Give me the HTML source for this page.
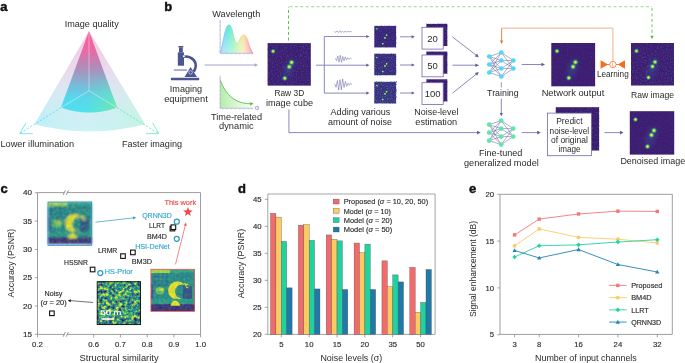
<!DOCTYPE html>
<html><head><meta charset="utf-8"><style>
html,body{margin:0;padding:0;background:#fff;}
svg{display:block;will-change:transform;}
text{font-family:"Liberation Sans",sans-serif;}
</style></head><body>
<svg width="685" height="363" viewBox="0 0 685 363" font-family="Liberation Sans, sans-serif">
<defs>
<linearGradient id="outerG" x1="0" y1="0" x2="0" y2="1">
  <stop offset="0" stop-color="#f2b4d4"/>
  <stop offset="0.35" stop-color="#e2cce4"/>
  <stop offset="0.6" stop-color="#d2e0ee"/>
  <stop offset="1" stop-color="#bff0f4"/>
</linearGradient>
<linearGradient id="outerH" x1="0" y1="0" x2="1" y2="0">
  <stop offset="0" stop-color="#b8f0f8" stop-opacity="0.55"/>
  <stop offset="0.5" stop-color="#c8eef4" stop-opacity="0"/>
  <stop offset="1" stop-color="#c8f4e0" stop-opacity="0.55"/>
</linearGradient>
<linearGradient id="innerG" x1="0" y1="0" x2="0" y2="1">
  <stop offset="0" stop-color="#f8589c"/>
  <stop offset="0.22" stop-color="#ec68a4"/>
  <stop offset="0.45" stop-color="#b08cb8"/>
  <stop offset="0.63" stop-color="#86b0d2"/>
  <stop offset="0.83" stop-color="#58d8ec"/>
  <stop offset="1" stop-color="#52e2ee"/>
</linearGradient>
<linearGradient id="innerH" x1="0" y1="0" x2="1" y2="0">
  <stop offset="0" stop-color="#44dcf4" stop-opacity="0.5"/>
  <stop offset="0.45" stop-color="#56dce8" stop-opacity="0.1"/>
  <stop offset="0.55" stop-color="#66e4c0" stop-opacity="0.3"/>
  <stop offset="1" stop-color="#70eaa6" stop-opacity="0.95"/>
</linearGradient>
<linearGradient id="mGrad" x1="0" y1="0" x2="0" y2="1">
  <stop offset="0" stop-color="#000"/>
  <stop offset="0.45" stop-color="#000"/>
  <stop offset="0.85" stop-color="#fff"/>
  <stop offset="1" stop-color="#fff"/>
</linearGradient>
<mask id="botMask" maskContentUnits="userSpaceOnUse"><rect x="0" y="31" width="170" height="90" fill="url(#mGrad)"/></mask>
<linearGradient id="outerH2" x1="0" y1="0" x2="1" y2="0">
  <stop offset="0" stop-color="#b0eef8" stop-opacity="0.6"/>
  <stop offset="0.5" stop-color="#c0eef0" stop-opacity="0.1"/>
  <stop offset="1" stop-color="#c4f4dc" stop-opacity="0.8"/>
</linearGradient>
<mask id="botMask2" maskContentUnits="userSpaceOnUse"><rect x="0" y="31" width="170" height="105" fill="url(#mGrad)"/></mask>
<linearGradient id="innerV2" x1="0" y1="0" x2="0" y2="1">
  <stop offset="0" stop-color="#fff" stop-opacity="1"/>
  <stop offset="0.5" stop-color="#fff" stop-opacity="0"/>
  <stop offset="1" stop-color="#fff" stop-opacity="1"/>
</linearGradient>
<linearGradient id="specG" x1="0" y1="0" x2="1" y2="0">
  <stop offset="0" stop-color="#88b8f8"/>
  <stop offset="0.2" stop-color="#5ee0ea"/>
  <stop offset="0.4" stop-color="#7cf0b4"/>
  <stop offset="0.58" stop-color="#ccf08c"/>
  <stop offset="0.72" stop-color="#fadc8c"/>
  <stop offset="0.86" stop-color="#f8a0a0"/>
  <stop offset="1" stop-color="#f26484"/>
</linearGradient>
<linearGradient id="specV" x1="0" y1="0" x2="0" y2="1">
  <stop offset="0" stop-color="#fff" stop-opacity="0"/>
  <stop offset="1" stop-color="#fff" stop-opacity="0.5"/>
</linearGradient>
<linearGradient id="timeG" x1="0" y1="0" x2="1" y2="0">
  <stop offset="0" stop-color="#b4eca8"/>
  <stop offset="1" stop-color="#eefaec" stop-opacity="0.6"/>
</linearGradient>
<radialGradient id="spotg">
  <stop offset="0" stop-color="#e6ee4a"/>
  <stop offset="0.28" stop-color="#bce43c"/>
  <stop offset="0.5" stop-color="#4cbc74" stop-opacity="0.8"/>
  <stop offset="0.75" stop-color="#2a7c94" stop-opacity="0.3"/>
  <stop offset="1" stop-color="#30508c" stop-opacity="0"/>
</radialGradient>
<radialGradient id="hazeg">
  <stop offset="0" stop-color="#3a5ca0" stop-opacity="0.45"/>
  <stop offset="1" stop-color="#3a5ca0" stop-opacity="0"/>
</radialGradient>
<filter id="nz0" x="0" y="0" width="100%" height="100%" color-interpolation-filters="sRGB">
  <feTurbulence type="fractalNoise" baseFrequency="0.8" numOctaves="2" seed="3"/>
  <feColorMatrix type="matrix" values="0 0 0 0 0.3  0 0 0 0 0.45  0 0 0 0 0.62  2.2 0 0 0 -1.0"/>
</filter>
<filter id="nz1" x="0" y="0" width="100%" height="100%" color-interpolation-filters="sRGB">
  <feTurbulence type="fractalNoise" baseFrequency="0.8" numOctaves="2" seed="7"/>
  <feColorMatrix type="matrix" values="0 0 0 0 0.3  0 0 0 0 0.45  0 0 0 0 0.62  2.2 0 0 0 -1.0"/>
</filter>
<filter id="nz2" x="0" y="0" width="100%" height="100%" color-interpolation-filters="sRGB">
  <feTurbulence type="fractalNoise" baseFrequency="0.8" numOctaves="2" seed="11"/>
  <feColorMatrix type="matrix" values="0 0 0 0 0.3  0 0 0 0 0.45  0 0 0 0 0.62  2.2 0 0 0 -1.0"/>
</filter>
<filter id="nz3" x="0" y="0" width="100%" height="100%" color-interpolation-filters="sRGB">
  <feTurbulence type="fractalNoise" baseFrequency="0.8" numOctaves="2" seed="19"/>
  <feColorMatrix type="matrix" values="0 0 0 0 0.3  0 0 0 0 0.45  0 0 0 0 0.62  2.2 0 0 0 -1.0"/>
</filter>
<filter id="blur1" x="-5%" y="-5%" width="110%" height="110%"><feGaussianBlur stdDeviation="0.9"/></filter>
<filter id="vnoise" x="0" y="0" width="100%" height="100%" color-interpolation-filters="sRGB">
  <feTurbulence type="fractalNoise" baseFrequency="0.32" numOctaves="2" seed="5"/>
  <feColorMatrix type="matrix" values="1.9 0 0 0 -0.38  1.9 0 0 0 -0.38  1.9 0 0 0 -0.38  0 0 0 0 1"/>
  <feComponentTransfer>
    <feFuncR type="table" tableValues="0.267 0.231 0.129 0.369 0.992"/>
    <feFuncG type="table" tableValues="0.004 0.322 0.569 0.788 0.906"/>
    <feFuncB type="table" tableValues="0.329 0.545 0.549 0.384 0.145"/>
  </feComponentTransfer>
</filter>
<symbol id="scene" viewBox="0 0 44 42" width="44" height="42" overflow="hidden">
  <rect width="44" height="42" fill="#2a8c8c"/>
  <rect x="0" y="0" width="19" height="3.8" fill="#b2da46"/>
  <rect x="19" y="0" width="25" height="3.2" fill="#3aa688"/>
  <g stroke="#2f6d94" stroke-width="0.9" opacity="0.9">
    <path d="M1,7.5 H18 M1,11.5 H18 M1,15.5 H17 M4,4 V16 M8,4 V16 M12,4 V16 M16,4 V16"/>
    <path d="M22,7 H40 M26,4 V12 M31,4 V12 M36,4 V12" opacity="0.6"/>
  </g>
  <rect x="0" y="15" width="2.2" height="15" fill="#3b5290"/>
  <path d="M32,17 L44,17 L44,34 L32,34 Z" fill="#34478a" opacity="0.85"/>
  <rect x="41" y="17" width="3" height="14" fill="#3a9a86"/>
  <ellipse cx="9" cy="21.5" rx="4.4" ry="3.7" fill="#7cc854"/>
  <ellipse cx="10.4" cy="20.4" rx="2.2" ry="1.5" fill="#d2e23c"/>
  <ellipse cx="8.2" cy="22.6" rx="1.6" ry="1.1" fill="#48aa7c"/>
  <mask id="cmask"><rect width="44" height="42" fill="#fff"/><circle cx="31.2" cy="22.3" r="7.1" fill="#000"/></mask>
  <circle cx="26.5" cy="21.2" r="9.3" fill="#f2e528" mask="url(#cmask)"/>
  <path d="M33,13.5 L37.5,15 L35,16.8 L38,18.6 L35.6,19" fill="#f2e528"/>
  <rect x="0" y="29.5" width="44" height="5" fill="#2f9a8a"/>
  <rect x="0" y="35" width="44" height="7" fill="#3e2d7c"/>
  <path d="M19.5,36.5 C20.5,33 22.5,31.2 24.5,31.2 C26.5,31.2 28.5,33.5 29.5,36.5 Z" fill="#f2e528"/>
</symbol>
</defs>
<rect width="685" height="363" fill="#fff"/>
<text x="0.3" y="10.7" font-size="13" text-anchor="start" fill="#111" font-weight="bold" stroke="#111" stroke-width="0.45">a</text>
<text x="91.7" y="27" font-size="9" text-anchor="middle" fill="#2b2b2b" font-weight="normal" textLength="54" lengthAdjust="spacingAndGlyphs" >Image quality</text>
<path d="M89,31 L34.5,124.3 Q89.5,138.5 145,124.3 Z" fill="url(#outerG)" opacity="0.75"/>
<path d="M89,31 L34.5,124.3 Q89.5,138.5 145,124.3 Z" fill="url(#outerH2)" mask="url(#botMask2)"/>
<path d="M89,31 L61,107.6 Q89,117.5 117,107.6 Z" fill="url(#innerG)"/>
<path d="M89,31 L61,107.6 Q89,117.5 117,107.6 Z" fill="url(#innerH)" mask="url(#botMask)"/>
<path d="M89,31 L89,90.8 M89,90.8 L61,107.6 M89,90.8 L117,107.6" stroke="#fff" stroke-width="0.55" opacity="0.75" fill="none"/>
<path d="M61,107.6 L19.7,133.6" stroke="#5cd8ec" stroke-width="0.8" stroke-dasharray="2.2,1.6" fill="none"/>
<path d="M117,107.6 L158.8,133.6" stroke="#5ee4b8" stroke-width="0.8" stroke-dasharray="2.2,1.6" fill="none"/>
<path d="M25.9,122.9 L19.7,133.6 L32.8,133.6" stroke="#6adcee" stroke-width="0.8" fill="none" stroke-linejoin="miter"/>
<path d="M152.6,122.9 L158.8,133.6 L145.7,133.6" stroke="#66e6bc" stroke-width="0.8" fill="none" stroke-linejoin="miter"/>
<text x="0.5" y="147" font-size="9" text-anchor="start" fill="#2b2b2b" font-weight="normal" textLength="73.6" lengthAdjust="spacingAndGlyphs" >Lower illumination</text>
<text x="122" y="147" font-size="9" text-anchor="start" fill="#2b2b2b" font-weight="normal" textLength="60" lengthAdjust="spacingAndGlyphs" >Faster imaging</text>
<text x="164.2" y="10.7" font-size="13" text-anchor="start" fill="#111" font-weight="bold" stroke="#111" stroke-width="0.45">b</text>
<g fill="#4d5590">
<rect x="178.4" y="46" width="4.9" height="1.6" rx="0.3"/>
<rect x="179" y="47.4" width="3.8" height="5.2"/>
<rect x="177.8" y="52.4" width="6.2" height="13.3"/>
<rect x="173.8" y="69.6" width="13.3" height="0.9"/>
<path d="M190.5,66.9 L184.6,76.9 L197,76.9 Z"/>
<path d="M170.9,77.8 L199.2,77.8 L199.2,79.6 Q199.2,80.2 198.6,80.2 L171.5,80.2 Q170.9,80.2 170.9,79.6 Z"/>
</g>
<path d="M183.6,56.7 C192,55.6 197.5,62 195.2,68.5 C194.8,69.8 194.3,70.8 193.6,71.6" stroke="#4d5590" stroke-width="2.6" fill="none"/>
<circle cx="183.8" cy="56.3" r="1.0" fill="#fff"/>
<circle cx="190.6" cy="72.4" r="1.8" fill="none" stroke="#fff" stroke-width="0.55"/>
<text x="186" y="92" font-size="9" text-anchor="middle" fill="#2b2b2b" font-weight="normal" textLength="32.4" lengthAdjust="spacingAndGlyphs" >Imaging</text>
<text x="186" y="101.5" font-size="9" text-anchor="middle" fill="#2b2b2b" font-weight="normal" textLength="43.7" lengthAdjust="spacingAndGlyphs" >equipment</text>
<text x="236.3" y="16.5" font-size="9" text-anchor="middle" fill="#2b2b2b" font-weight="normal" textLength="47.9" lengthAdjust="spacingAndGlyphs" >Wavelength</text>
<path d="M220.2,53.3 C223,45 225,25 228.9,24.8 C233,24.6 233.5,43 236.7,43.2 C239.5,43.4 240,34.7 243.8,34.7 C247.5,34.7 249,49 252.9,53.3 Z" fill="url(#specG)"/>
<path d="M220.2,53.3 C223,45 225,25 228.9,24.8 C233,24.6 233.5,43 236.7,43.2 C239.5,43.4 240,34.7 243.8,34.7 C247.5,34.7 249,49 252.9,53.3 Z" fill="url(#specV)"/>
<path d="M220.2,53.3 C223,45 225,25 228.9,24.8 C233,24.6 233.5,43 236.7,43.2 C239.5,43.4 240,34.7 243.8,34.7 C247.5,34.7 249,49 252.9,53.3" fill="none" stroke="url(#specG)" stroke-width="0.8"/>
<path d="M220.2,19.8 L220.2,53.3 L252.9,53.3" stroke="#a8aad0" stroke-width="0.7" fill="none"/>
<line x1="219" y1="22.0" x2="220.2" y2="22.0" stroke="#b0b2d6" stroke-width="0.5"/>
<line x1="223.0" y1="53.3" x2="223.0" y2="54.5" stroke="#b0b2d6" stroke-width="0.5"/>
<line x1="219" y1="26.2" x2="220.2" y2="26.2" stroke="#b0b2d6" stroke-width="0.5"/>
<line x1="227.2" y1="53.3" x2="227.2" y2="54.5" stroke="#b0b2d6" stroke-width="0.5"/>
<line x1="219" y1="30.4" x2="220.2" y2="30.4" stroke="#b0b2d6" stroke-width="0.5"/>
<line x1="231.4" y1="53.3" x2="231.4" y2="54.5" stroke="#b0b2d6" stroke-width="0.5"/>
<line x1="219" y1="34.6" x2="220.2" y2="34.6" stroke="#b0b2d6" stroke-width="0.5"/>
<line x1="235.6" y1="53.3" x2="235.6" y2="54.5" stroke="#b0b2d6" stroke-width="0.5"/>
<line x1="219" y1="38.8" x2="220.2" y2="38.8" stroke="#b0b2d6" stroke-width="0.5"/>
<line x1="239.8" y1="53.3" x2="239.8" y2="54.5" stroke="#b0b2d6" stroke-width="0.5"/>
<line x1="219" y1="43.0" x2="220.2" y2="43.0" stroke="#b0b2d6" stroke-width="0.5"/>
<line x1="244.0" y1="53.3" x2="244.0" y2="54.5" stroke="#b0b2d6" stroke-width="0.5"/>
<line x1="219" y1="47.2" x2="220.2" y2="47.2" stroke="#b0b2d6" stroke-width="0.5"/>
<line x1="248.2" y1="53.3" x2="248.2" y2="54.5" stroke="#b0b2d6" stroke-width="0.5"/>
<line x1="219" y1="51.4" x2="220.2" y2="51.4" stroke="#b0b2d6" stroke-width="0.5"/>
<line x1="252.4" y1="53.3" x2="252.4" y2="54.5" stroke="#b0b2d6" stroke-width="0.5"/>
<line x1="204.5" y1="65" x2="255.28" y2="65.00" stroke="#a4a6cc" stroke-width="1.0"/>
<path d="M258.00,65.00 L254.60,66.70 L254.60,63.30 Z" fill="#a4a6cc"/>
<path d="M220.2,79.8 C226,96 236,103.5 250,103.7 L252.9,108.3 L220.2,108.3 Z" fill="url(#timeG)"/>
<path d="M220.2,79.8 C226,96 236,103.5 250,103.7" stroke="#58c448" stroke-width="0.9" fill="none"/>
<path d="M253.50,103.70 L250.10,105.40 L250.10,102.00 Z" fill="#50c040"/>
<path d="M220.2,75.7 L220.2,108.3 L252.9,108.3" stroke="#a8aad0" stroke-width="0.7" fill="none"/>
<line x1="219" y1="78.0" x2="220.2" y2="78.0" stroke="#b0b2d6" stroke-width="0.5"/>
<line x1="223.0" y1="108.3" x2="223.0" y2="109.5" stroke="#b0b2d6" stroke-width="0.5"/>
<line x1="219" y1="82.2" x2="220.2" y2="82.2" stroke="#b0b2d6" stroke-width="0.5"/>
<line x1="227.2" y1="108.3" x2="227.2" y2="109.5" stroke="#b0b2d6" stroke-width="0.5"/>
<line x1="219" y1="86.4" x2="220.2" y2="86.4" stroke="#b0b2d6" stroke-width="0.5"/>
<line x1="231.4" y1="108.3" x2="231.4" y2="109.5" stroke="#b0b2d6" stroke-width="0.5"/>
<line x1="219" y1="90.6" x2="220.2" y2="90.6" stroke="#b0b2d6" stroke-width="0.5"/>
<line x1="235.6" y1="108.3" x2="235.6" y2="109.5" stroke="#b0b2d6" stroke-width="0.5"/>
<line x1="219" y1="94.8" x2="220.2" y2="94.8" stroke="#b0b2d6" stroke-width="0.5"/>
<line x1="239.8" y1="108.3" x2="239.8" y2="109.5" stroke="#b0b2d6" stroke-width="0.5"/>
<line x1="219" y1="99.0" x2="220.2" y2="99.0" stroke="#b0b2d6" stroke-width="0.5"/>
<line x1="244.0" y1="108.3" x2="244.0" y2="109.5" stroke="#b0b2d6" stroke-width="0.5"/>
<line x1="219" y1="103.2" x2="220.2" y2="103.2" stroke="#b0b2d6" stroke-width="0.5"/>
<line x1="248.2" y1="108.3" x2="248.2" y2="109.5" stroke="#b0b2d6" stroke-width="0.5"/>
<line x1="219" y1="107.4" x2="220.2" y2="107.4" stroke="#b0b2d6" stroke-width="0.5"/>
<line x1="252.4" y1="108.3" x2="252.4" y2="109.5" stroke="#b0b2d6" stroke-width="0.5"/>
<circle cx="257" cy="108" r="1.8" fill="#fff" stroke="#7a7cb8" stroke-width="0.6"/>
<path d="M257,106.9 L257,108 L257.8,108.5" stroke="#7a7cb8" stroke-width="0.4" fill="none"/>
<text x="236.5" y="120.2" font-size="9" text-anchor="middle" fill="#2b2b2b" font-weight="normal" textLength="51" lengthAdjust="spacingAndGlyphs" >Time-related</text>
<text x="236.3" y="128.8" font-size="9" text-anchor="middle" fill="#2b2b2b" font-weight="normal" textLength="34.6" lengthAdjust="spacingAndGlyphs" >dynamic</text>
<g>
<rect x="267.6" y="43.1" width="43.2" height="42.5" fill="#3d1c72"/>
<rect x="267.6" y="43.1" width="43.2" height="42.5" fill="#000" filter="url(#nz0)" opacity="0.55"/>
<ellipse cx="288.6" cy="69.2" rx="7.8" ry="13.6" fill="url(#hazeg)" transform="rotate(20 288.6 69.2)"/>
<circle cx="273.1" cy="51.3" r="3.12" fill="url(#spotg)"/>
<circle cx="291.6" cy="62.4" r="3.64" fill="url(#spotg)"/>
<circle cx="289.3" cy="66.8" r="3.64" fill="url(#spotg)"/>
<circle cx="284.8" cy="78.3" r="3.38" fill="url(#spotg)"/>
</g>
<text x="289.3" y="95.6" font-size="9" text-anchor="middle" fill="#2b2b2b" font-weight="normal" textLength="29.8" lengthAdjust="spacingAndGlyphs" >Raw 3D</text>
<text x="289.5" y="106.1" font-size="9" text-anchor="middle" fill="#2b2b2b" font-weight="normal" textLength="47.2" lengthAdjust="spacingAndGlyphs" >image cube</text>
<path d="M288.5,40.5 L288.5,6.8" stroke="#5cc04c" stroke-width="1" stroke-dasharray="3.1,2.4" fill="none"/>
<path d="M289.5,6.8 L652,6.8" stroke="#9ada8a" stroke-width="1.1" stroke-dasharray="3.1,2.3" fill="none"/>
<path d="M652,8 L652,36" stroke="#78d066" stroke-width="1.1" stroke-dasharray="3.1,2.3" fill="none"/>
<path d="M652.00,39.20 L650.40,36.00 L653.60,36.00 Z" fill="#5cc04c"/>
<line x1="315.9" y1="65.2" x2="324.3" y2="65.2" stroke="#7a7cb4" stroke-width="0.9"/>
<line x1="324.3" y1="36.5" x2="324.3" y2="93.1" stroke="#7a7cb4" stroke-width="0.9"/>
<line x1="324.3" y1="36.5" x2="366.94" y2="36.50" stroke="#7a7cb4" stroke-width="0.9"/>
<path d="M369.50,36.50 L366.30,38.10 L366.30,34.90 Z" fill="#5c5e9c"/>
<line x1="324.3" y1="65.2" x2="366.94" y2="65.20" stroke="#7a7cb4" stroke-width="0.9"/>
<path d="M369.50,65.20 L366.30,66.80 L366.30,63.60 Z" fill="#5c5e9c"/>
<line x1="324.3" y1="93.1" x2="366.94" y2="93.10" stroke="#7a7cb4" stroke-width="0.9"/>
<path d="M369.50,93.10 L366.30,94.70 L366.30,91.50 Z" fill="#5c5e9c"/>
<polyline points="334.40,31.60 335.73,32.24 337.06,31.03 338.39,32.58 339.72,30.73 341.05,32.47 342.38,31.04 343.72,32.41 345.05,31.28 346.38,31.99 347.71,31.43 349.04,31.88 350.37,31.53 351.70,31.74" fill="none" stroke="#6a6ca8" stroke-width="0.55"/>
<polyline points="335.30,58.29 336.55,60.69 337.79,56.02 339.04,62.11 340.28,55.21 341.53,62.31 342.78,56.41 344.02,60.85 345.27,56.86 346.52,59.88 347.76,57.78 349.01,59.24 350.25,58.17 351.50,58.84" fill="none" stroke="#6a6ca8" stroke-width="0.55"/>
<polyline points="334.70,83.63 336.03,87.34 337.36,80.62 338.69,90.08 340.02,79.69 341.35,89.76 342.68,78.85 344.02,87.52 345.35,81.48 346.68,86.33 348.01,83.13 349.34,85.34 350.67,83.30 352.00,84.56" fill="none" stroke="#6a6ca8" stroke-width="0.55"/>
<g>
<rect x="374.3" y="25.9" width="21.8" height="21.5" fill="#3a2378"/>
<rect x="374.3" y="25.9" width="21.8" height="21.5" fill="#000" filter="url(#nz1)" opacity="0.55"/>
<circle cx="376.9" cy="28.9" r="1.30" fill="url(#spotg)"/>
<circle cx="386.6" cy="35.2" r="1.56" fill="url(#spotg)"/>
<circle cx="385" cy="37.9" r="1.69" fill="url(#spotg)"/>
<circle cx="382.8" cy="43.7" r="1.56" fill="url(#spotg)"/>
</g>
<g>
<rect x="374.3" y="53.8" width="21.8" height="21.4" fill="#3a2a7c"/>
<rect x="374.3" y="53.8" width="21.8" height="21.4" fill="#000" filter="url(#nz2)" opacity="0.8"/>
<circle cx="376.9" cy="57.6" r="1.30" fill="url(#spotg)"/>
<circle cx="386.6" cy="63.9" r="1.56" fill="url(#spotg)"/>
<circle cx="385" cy="65.9" r="1.69" fill="url(#spotg)"/>
<circle cx="382.8" cy="71.5" r="1.56" fill="url(#spotg)"/>
</g>
<g>
<rect x="374.3" y="81.8" width="21.8" height="21.6" fill="#3a307e"/>
<rect x="374.3" y="81.8" width="21.8" height="21.6" fill="#000" filter="url(#nz3)" opacity="1.0"/>
<circle cx="376.9" cy="85.5" r="1.30" fill="url(#spotg)"/>
<circle cx="386.6" cy="91.8" r="1.56" fill="url(#spotg)"/>
<circle cx="385" cy="93.9" r="1.69" fill="url(#spotg)"/>
<circle cx="382.8" cy="99.5" r="1.56" fill="url(#spotg)"/>
</g>
<line x1="400" y1="36.8" x2="412.24" y2="36.80" stroke="#7a7cb4" stroke-width="0.9"/>
<path d="M414.80,36.80 L411.60,38.40 L411.60,35.20 Z" fill="#5c5e9c"/>
<line x1="400" y1="65" x2="412.24" y2="65.00" stroke="#7a7cb4" stroke-width="0.9"/>
<path d="M414.80,65.00 L411.60,66.60 L411.60,63.40 Z" fill="#5c5e9c"/>
<line x1="400" y1="93" x2="412.24" y2="93.00" stroke="#7a7cb4" stroke-width="0.9"/>
<path d="M414.80,93.00 L411.60,94.60 L411.60,91.40 Z" fill="#5c5e9c"/>
<rect x="426.4" y="23.9" width="20.9" height="22.1" fill="#3b1a6e"/>
<rect x="426.4" y="23.9" width="20.9" height="22.1" fill="#000" filter="url(#nz1)" opacity="0.6"/>
<rect x="422" y="27.3" width="21.2" height="21.8" fill="#fff" stroke="#7766aa" stroke-width="0.8"/>
<text x="432.6" y="41.5" font-size="9.5" text-anchor="middle" fill="#2b2b2b" font-weight="normal" >20</text>
<rect x="426.4" y="51.6" width="20.9" height="22.1" fill="#3b1a6e"/>
<rect x="426.4" y="51.6" width="20.9" height="22.1" fill="#000" filter="url(#nz1)" opacity="0.6"/>
<rect x="422" y="55.0" width="21.2" height="21.8" fill="#fff" stroke="#7766aa" stroke-width="0.8"/>
<text x="432.6" y="69.2" font-size="9.5" text-anchor="middle" fill="#2b2b2b" font-weight="normal" >50</text>
<rect x="426.4" y="79.3" width="20.9" height="22.1" fill="#3b1a6e"/>
<rect x="426.4" y="79.3" width="20.9" height="22.1" fill="#000" filter="url(#nz1)" opacity="0.6"/>
<rect x="422" y="82.7" width="21.2" height="21.8" fill="#fff" stroke="#7766aa" stroke-width="0.8"/>
<text x="432.6" y="96.89999999999999" font-size="9.5" text-anchor="middle" fill="#2b2b2b" font-weight="normal" >100</text>
<text x="360.5" y="115.3" font-size="9" text-anchor="middle" fill="#2b2b2b" font-weight="normal" textLength="59.8" lengthAdjust="spacingAndGlyphs" >Adding various</text>
<text x="360" y="125" font-size="9" text-anchor="middle" fill="#2b2b2b" font-weight="normal" textLength="64" lengthAdjust="spacingAndGlyphs" >amount of noise</text>
<text x="436.4" y="115.4" font-size="9" text-anchor="middle" fill="#2b2b2b" font-weight="normal" textLength="44.1" lengthAdjust="spacingAndGlyphs" >Noise-level</text>
<text x="436.2" y="125.1" font-size="9" text-anchor="middle" fill="#2b2b2b" font-weight="normal" textLength="41.8" lengthAdjust="spacingAndGlyphs" >estimation</text>
<line x1="452.4" y1="36.9" x2="476.52" y2="55.44" stroke="#7a7cb4" stroke-width="0.9"/>
<path d="M478.80,57.20 L474.85,56.43 L477.04,53.58 Z" fill="#5c5e9c"/>
<line x1="452.4" y1="65.2" x2="476.12" y2="65.20" stroke="#7a7cb4" stroke-width="0.9"/>
<path d="M479.00,65.20 L475.40,67.00 L475.40,63.40 Z" fill="#5c5e9c"/>
<line x1="452.4" y1="93.2" x2="476.55" y2="73.90" stroke="#7a7cb4" stroke-width="0.9"/>
<path d="M478.80,72.10 L477.11,75.75 L474.86,72.94 Z" fill="#5c5e9c"/>
<path d="M489.3,56.5L501.3,52.5M489.3,56.5L501.3,60.5M489.3,56.5L501.3,68.5M489.3,56.5L501.3,76.5M489.3,64.5L501.3,52.5M489.3,64.5L501.3,60.5M489.3,64.5L501.3,68.5M489.3,64.5L501.3,76.5M489.3,72.5L501.3,52.5M489.3,72.5L501.3,60.5M489.3,72.5L501.3,68.5M489.3,72.5L501.3,76.5M501.3,52.5L513.3,60.5M501.3,52.5L513.3,68.5M501.3,60.5L513.3,60.5M501.3,60.5L513.3,68.5M501.3,68.5L513.3,60.5M501.3,68.5L513.3,68.5M501.3,76.5L513.3,60.5M501.3,76.5L513.3,68.5" stroke="#4c4c8c" stroke-width="0.45" fill="none"/>
<circle cx="489.3" cy="56.5" r="2.35" fill="#52d6f4"/>
<circle cx="489.3" cy="64.5" r="2.35" fill="#52d6f4"/>
<circle cx="489.3" cy="72.5" r="2.35" fill="#52d6f4"/>
<circle cx="501.3" cy="52.5" r="2.35" fill="#52d6f4"/>
<circle cx="501.3" cy="60.5" r="2.35" fill="#52d6f4"/>
<circle cx="501.3" cy="68.5" r="2.35" fill="#52d6f4"/>
<circle cx="501.3" cy="76.5" r="2.35" fill="#52d6f4"/>
<circle cx="513.3" cy="60.5" r="2.35" fill="#52d6f4"/>
<circle cx="513.3" cy="68.5" r="2.35" fill="#52d6f4"/>
<path d="M501.6,28.1 L612.9,28.1 L612.9,61" stroke="#f6b088" stroke-width="1" fill="none"/>
<path d="M501.6,41.5 L501.6,28.1" stroke="#f0884a" stroke-width="1" fill="none"/>
<path d="M501.60,44.00 L499.90,40.60 L503.30,40.60 Z" fill="#ee7a2a"/>
<line x1="501.3" y1="82.2" x2="501.3" y2="87.4" stroke="#7a7cb4" stroke-width="0.8"/>
<text x="502.9" y="96.3" font-size="9" text-anchor="middle" fill="#2b2b2b" font-weight="normal" textLength="31.6" lengthAdjust="spacingAndGlyphs" >Training</text>
<line x1="501.3" y1="98.7" x2="501.30" y2="113.74" stroke="#7a7cb4" stroke-width="0.9"/>
<path d="M501.30,116.30 L499.70,113.10 L502.90,113.10 Z" fill="#5c5e9c"/>
<line x1="521.7" y1="64.5" x2="542.12" y2="64.50" stroke="#7a7cb4" stroke-width="0.9"/>
<path d="M545.00,64.50 L541.40,66.30 L541.40,62.70 Z" fill="#5c5e9c"/>
<g>
<rect x="551.3" y="43" width="43.8" height="43.3" fill="#3d1c72"/>
<rect x="551.3" y="43" width="43.8" height="43.3" fill="#000" filter="url(#nz2)" opacity="0.25"/>
<ellipse cx="572.4" cy="68.9" rx="7.9" ry="13.9" fill="url(#hazeg)" transform="rotate(20 572.4 68.9)"/>
<circle cx="557" cy="51.1" r="3.12" fill="url(#spotg)"/>
<circle cx="575.4" cy="62.2" r="3.64" fill="url(#spotg)"/>
<circle cx="573.1" cy="66.7" r="3.64" fill="url(#spotg)"/>
<circle cx="568.8" cy="77.9" r="3.38" fill="url(#spotg)"/>
</g>
<text x="573" y="96.2" font-size="9" text-anchor="middle" fill="#2b2b2b" font-weight="normal" textLength="62.7" lengthAdjust="spacingAndGlyphs" >Network output</text>
<path d="M600.6,60.2 L608,64.5 L600.6,68.7 Z M625,60.2 L617.6,64.5 L625,68.7 Z" fill="#f07020"/>
<line x1="607" y1="64.5" x2="618.5" y2="64.5" stroke="#f07020" stroke-width="0.9"/>
<circle cx="612.9" cy="64.5" r="3.2" fill="#fff" stroke="#f07a30" stroke-width="0.8"/>
<path d="M612.6,62.4 L612.6,66.2 L613.8,66.2" stroke="#f08a40" stroke-width="0.55" fill="none"/>
<text x="612.8" y="77.2" font-size="9" text-anchor="middle" fill="#2b2b2b" font-weight="normal" textLength="31.8" lengthAdjust="spacingAndGlyphs" >Learning</text>
<g>
<rect x="631" y="43" width="43" height="42.5" fill="#3d1c72"/>
<rect x="631" y="43" width="43" height="42.5" fill="#000" filter="url(#nz3)" opacity="0.55"/>
<ellipse cx="652.0" cy="68.7" rx="7.7" ry="13.6" fill="url(#hazeg)" transform="rotate(20 652.0 68.7)"/>
<circle cx="636.5" cy="51" r="3.12" fill="url(#spotg)"/>
<circle cx="655" cy="62" r="3.38" fill="url(#spotg)"/>
<circle cx="652.5" cy="66.5" r="3.38" fill="url(#spotg)"/>
<circle cx="648.5" cy="77.5" r="3.12" fill="url(#spotg)"/>
</g>
<text x="652.5" y="98" font-size="9" text-anchor="middle" fill="#2b2b2b" font-weight="normal" textLength="43.2" lengthAdjust="spacingAndGlyphs" >Raw image</text>
<path d="M288.9,109.5 L288.9,132.6 L477,132.6" stroke="#7a7cb4" stroke-width="0.9" fill="none"/>
<path d="M480.60,132.60 L477.00,134.40 L477.00,130.80 Z" fill="#5c5e9c"/>
<path d="M489.2,124.6L501.2,120.6M489.2,124.6L501.2,128.6M489.2,124.6L501.2,136.6M489.2,124.6L501.2,144.6M489.2,132.6L501.2,120.6M489.2,132.6L501.2,128.6M489.2,132.6L501.2,136.6M489.2,132.6L501.2,144.6M489.2,140.6L501.2,120.6M489.2,140.6L501.2,128.6M489.2,140.6L501.2,136.6M489.2,140.6L501.2,144.6M501.2,120.6L513.2,128.6M501.2,120.6L513.2,136.6M501.2,128.6L513.2,128.6M501.2,128.6L513.2,136.6M501.2,136.6L513.2,128.6M501.2,136.6L513.2,136.6M501.2,144.6L513.2,128.6M501.2,144.6L513.2,136.6" stroke="#4c4c8c" stroke-width="0.45" fill="none"/>
<circle cx="489.2" cy="124.6" r="2.35" fill="#62e6a8"/>
<circle cx="489.2" cy="132.6" r="2.35" fill="#62e6a8"/>
<circle cx="489.2" cy="140.6" r="2.35" fill="#62e6a8"/>
<circle cx="501.2" cy="120.6" r="2.35" fill="#62e6a8"/>
<circle cx="501.2" cy="128.6" r="2.35" fill="#62e6a8"/>
<circle cx="501.2" cy="136.6" r="2.35" fill="#62e6a8"/>
<circle cx="501.2" cy="144.6" r="2.35" fill="#62e6a8"/>
<circle cx="513.2" cy="128.6" r="2.35" fill="#62e6a8"/>
<circle cx="513.2" cy="136.6" r="2.35" fill="#62e6a8"/>
<text x="500.7" y="156.3" font-size="9" text-anchor="middle" fill="#2b2b2b" font-weight="normal" textLength="43.4" lengthAdjust="spacingAndGlyphs" >Fine-tuned</text>
<text x="501.4" y="166.1" font-size="9" text-anchor="middle" fill="#2b2b2b" font-weight="normal" textLength="74.8" lengthAdjust="spacingAndGlyphs" >generalized model</text>
<line x1="521.8" y1="132.6" x2="537.92" y2="132.60" stroke="#7a7cb4" stroke-width="0.9"/>
<path d="M540.80,132.60 L537.20,134.40 L537.20,130.80 Z" fill="#5c5e9c"/>
<rect x="555.8" y="107.2" width="43.3" height="43.3" fill="#3b1a6e"/>
<rect x="555.8" y="107.2" width="43.3" height="43.3" fill="#000" filter="url(#nz2)" opacity="0.5"/>
<rect x="547.4" y="113.1" width="44" height="42.6" fill="#fff" stroke="#7766aa" stroke-width="0.8"/>
<text x="569.4" y="124.1" font-size="9" text-anchor="middle" fill="#2b2b2b" font-weight="normal" textLength="26.5" lengthAdjust="spacingAndGlyphs" >Predict</text>
<text x="569.4" y="133.5" font-size="9" text-anchor="middle" fill="#2b2b2b" font-weight="normal" textLength="39.6" lengthAdjust="spacingAndGlyphs" >noise-level</text>
<text x="569.4" y="142.9" font-size="9" text-anchor="middle" fill="#2b2b2b" font-weight="normal" textLength="37" lengthAdjust="spacingAndGlyphs" >of original</text>
<text x="569.4" y="152.2" font-size="9" text-anchor="middle" fill="#2b2b2b" font-weight="normal" textLength="22" lengthAdjust="spacingAndGlyphs" >image</text>
<line x1="604.5" y1="132.6" x2="620.72" y2="132.60" stroke="#7a7cb4" stroke-width="0.9"/>
<path d="M623.60,132.60 L620.00,134.40 L620.00,130.80 Z" fill="#5c5e9c"/>
<g>
<rect x="629.8" y="111.2" width="44.4" height="43.4" fill="#3d1c72"/>
<rect x="629.8" y="111.2" width="44.4" height="43.4" fill="#000" filter="url(#nz1)" opacity="0.25"/>
<ellipse cx="651.0" cy="137.3" rx="8.0" ry="13.9" fill="url(#hazeg)" transform="rotate(20 651.0 137.3)"/>
<circle cx="635.5" cy="119.5" r="3.12" fill="url(#spotg)"/>
<circle cx="654" cy="130.5" r="3.64" fill="url(#spotg)"/>
<circle cx="651.5" cy="135" r="3.64" fill="url(#spotg)"/>
<circle cx="647.5" cy="146.5" r="3.38" fill="url(#spotg)"/>
</g>
<text x="652.8" y="164.2" font-size="9" text-anchor="middle" fill="#2b2b2b" font-weight="normal" textLength="64.8" lengthAdjust="spacingAndGlyphs" >Denoised image</text>
<text x="0.5" y="192.8" font-size="13" text-anchor="start" fill="#111" font-weight="bold" stroke="#111" stroke-width="0.45">c</text>
<path d="M37.5,192.6 L37.5,334.4 L200.5,334.4 L200.5,192.6 Z" fill="none" stroke="#7e7e7e" stroke-width="0.75"/>
<rect x="64.2" y="191.1" width="3.2" height="3" fill="#fff"/>
<path d="M63.199999999999996,194.9 L65.39999999999999,190.29999999999998 M66.2,194.9 L68.39999999999999,190.29999999999998" stroke="#555" stroke-width="0.65"/>
<rect x="64.2" y="332.9" width="3.2" height="3" fill="#fff"/>
<path d="M63.199999999999996,336.7 L65.39999999999999,332.09999999999997 M66.2,336.7 L68.39999999999999,332.09999999999997" stroke="#555" stroke-width="0.65"/>
<line x1="34.8" y1="192.8" x2="37.5" y2="192.8" stroke="#7e7e7e" stroke-width="0.7"/>
<text x="32" y="195.4" font-size="7.6" text-anchor="end" fill="#2b2b2b" font-weight="normal" textLength="9" lengthAdjust="spacingAndGlyphs"  stroke="#2b2b2b" stroke-width="0.15">40</text>
<line x1="34.8" y1="221.1" x2="37.5" y2="221.1" stroke="#7e7e7e" stroke-width="0.7"/>
<text x="32" y="223.70000000000002" font-size="7.6" text-anchor="end" fill="#2b2b2b" font-weight="normal" textLength="9" lengthAdjust="spacingAndGlyphs"  stroke="#2b2b2b" stroke-width="0.15">35</text>
<line x1="34.8" y1="249.4" x2="37.5" y2="249.4" stroke="#7e7e7e" stroke-width="0.7"/>
<text x="32" y="252.0" font-size="7.6" text-anchor="end" fill="#2b2b2b" font-weight="normal" textLength="9" lengthAdjust="spacingAndGlyphs"  stroke="#2b2b2b" stroke-width="0.15">30</text>
<line x1="34.8" y1="277.7" x2="37.5" y2="277.7" stroke="#7e7e7e" stroke-width="0.7"/>
<text x="32" y="280.3" font-size="7.6" text-anchor="end" fill="#2b2b2b" font-weight="normal" textLength="9" lengthAdjust="spacingAndGlyphs"  stroke="#2b2b2b" stroke-width="0.15">25</text>
<line x1="34.8" y1="306.0" x2="37.5" y2="306.0" stroke="#7e7e7e" stroke-width="0.7"/>
<text x="32" y="308.6" font-size="7.6" text-anchor="end" fill="#2b2b2b" font-weight="normal" textLength="9" lengthAdjust="spacingAndGlyphs"  stroke="#2b2b2b" stroke-width="0.15">20</text>
<line x1="34.8" y1="334.3" x2="37.5" y2="334.3" stroke="#7e7e7e" stroke-width="0.7"/>
<text x="32" y="336.90000000000003" font-size="7.6" text-anchor="end" fill="#2b2b2b" font-weight="normal" textLength="9" lengthAdjust="spacingAndGlyphs"  stroke="#2b2b2b" stroke-width="0.15">15</text>
<line x1="37.5" y1="334.4" x2="37.5" y2="337.4" stroke="#7e7e7e" stroke-width="0.7"/>
<text x="37.5" y="346.9" font-size="7.6" text-anchor="middle" fill="#2b2b2b" font-weight="normal" textLength="10.8" lengthAdjust="spacingAndGlyphs"  stroke="#2b2b2b" stroke-width="0.15">0.2</text>
<line x1="93.7" y1="334.4" x2="93.7" y2="337.4" stroke="#7e7e7e" stroke-width="0.7"/>
<text x="93.7" y="346.9" font-size="7.6" text-anchor="middle" fill="#2b2b2b" font-weight="normal" textLength="10.8" lengthAdjust="spacingAndGlyphs"  stroke="#2b2b2b" stroke-width="0.15">0.6</text>
<line x1="120.4" y1="334.4" x2="120.4" y2="337.4" stroke="#7e7e7e" stroke-width="0.7"/>
<text x="120.43" y="346.9" font-size="7.6" text-anchor="middle" fill="#2b2b2b" font-weight="normal" textLength="10.8" lengthAdjust="spacingAndGlyphs"  stroke="#2b2b2b" stroke-width="0.15">0.7</text>
<line x1="147.2" y1="334.4" x2="147.2" y2="337.4" stroke="#7e7e7e" stroke-width="0.7"/>
<text x="147.16000000000003" y="346.9" font-size="7.6" text-anchor="middle" fill="#2b2b2b" font-weight="normal" textLength="10.8" lengthAdjust="spacingAndGlyphs"  stroke="#2b2b2b" stroke-width="0.15">0.8</text>
<line x1="173.9" y1="334.4" x2="173.9" y2="337.4" stroke="#7e7e7e" stroke-width="0.7"/>
<text x="173.89000000000001" y="346.9" font-size="7.6" text-anchor="middle" fill="#2b2b2b" font-weight="normal" textLength="10.8" lengthAdjust="spacingAndGlyphs"  stroke="#2b2b2b" stroke-width="0.15">0.9</text>
<line x1="200.6" y1="334.4" x2="200.6" y2="337.4" stroke="#7e7e7e" stroke-width="0.7"/>
<text x="200.62" y="346.9" font-size="7.6" text-anchor="middle" fill="#2b2b2b" font-weight="normal" textLength="10.8" lengthAdjust="spacingAndGlyphs"  stroke="#2b2b2b" stroke-width="0.15">1.0</text>
<text x="119.1" y="360.9" font-size="9" text-anchor="middle" fill="#2b2b2b" font-weight="normal" textLength="79" lengthAdjust="spacingAndGlyphs" >Structural similarity</text>
<text x="0" y="0" font-size="9" text-anchor="middle" fill="#2b2b2b" font-weight="normal" textLength="68.6" lengthAdjust="spacingAndGlyphs" transform="translate(13.6,263.1) rotate(-90)">Accuracy (PSNR)</text>
<g transform="translate(150.9,269.3)"><use href="#scene"/></g>
<rect x="150.9" y="269.3" width="43.4" height="42.2" fill="#000" filter="url(#vnoise)" opacity="0.12"/>
<rect x="150.9" y="269.3" width="43.4" height="42.2" fill="none" stroke="#f25a5a" stroke-width="0.8"/>
<g transform="translate(48,202.1)" filter="url(#blur1)"><use href="#scene"/></g>
<rect x="48" y="202.1" width="43.6" height="43.2" fill="#000" filter="url(#vnoise)" opacity="0.15"/>
<rect x="48" y="202.1" width="43.6" height="43.2" fill="none" stroke="#2e8ad6" stroke-width="0.8"/>
<rect x="97.2" y="281.8" width="43.3" height="42.8" fill="#000" filter="url(#vnoise)"/>
<g transform="translate(97.2,281.8)" opacity="0.1"><use href="#scene"/></g>
<rect x="97.2" y="281.8" width="43.3" height="42.8" fill="none" stroke="#111" stroke-width="0.9"/>
<text x="111" y="314.7" font-size="7.8" text-anchor="middle" fill="#fff" font-weight="normal" textLength="21" lengthAdjust="spacingAndGlyphs"  stroke="#fff" stroke-width="0.15">50 m</text>
<rect x="101.5" y="318.2" width="12.3" height="1.6" fill="#fff"/>
<line x1="95.5" y1="222.2" x2="133.82" y2="217.87" stroke="#2e96c8" stroke-width="0.7"/>
<path d="M136.20,217.60 L133.39,219.43 L133.05,216.45 Z" fill="#2e96c8"/>
<line x1="175.5" y1="264.3" x2="185.41" y2="224.93" stroke="#f05050" stroke-width="0.7"/>
<path d="M186.00,222.60 L186.72,225.88 L183.81,225.14 Z" fill="#f05050"/>
<line x1="93" y1="302.5" x2="70.19" y2="300.60" stroke="#111" stroke-width="0.6"/>
<path d="M67.80,300.40 L70.91,299.15 L70.67,302.14 Z" fill="#111"/>
<rect x="49.6" y="311.0" width="4.6" height="4.6" fill="#fff" stroke="#111" stroke-width="1.1"/>
<rect x="90.3" y="267.2" width="4.6" height="4.6" fill="#fff" stroke="#111" stroke-width="1.1"/>
<rect x="120.7" y="253.8" width="4.6" height="4.6" fill="#fff" stroke="#111" stroke-width="1.1"/>
<rect x="130.6" y="250.1" width="4.6" height="4.6" fill="#fff" stroke="#111" stroke-width="1.1"/>
<rect x="170.1" y="226.3" width="4.6" height="4.6" fill="#fff" stroke="#111" stroke-width="1.1"/>
<rect x="171.1" y="224.9" width="4.6" height="4.6" fill="#fff" stroke="#111" stroke-width="1.1"/>
<circle cx="100.3" cy="273" r="2.5" fill="#fff" stroke="#2a9cc8" stroke-width="1.25"/>
<circle cx="176.8" cy="221.7" r="2.5" fill="#fff" stroke="#2a9cc8" stroke-width="1.25"/>
<circle cx="176.8" cy="238.8" r="2.5" fill="#fff" stroke="#2a9cc8" stroke-width="1.25"/>
<polygon points="187.90,207.00 189.13,210.30 192.66,210.45 189.90,212.65 190.84,216.05 187.90,214.10 184.96,216.05 185.90,212.65 183.14,210.45 186.67,210.30" fill="#f04848"/>
<text x="180.3" y="204.8" font-size="7.4" text-anchor="middle" fill="#f04848" font-weight="normal" textLength="31.7" lengthAdjust="spacingAndGlyphs"  stroke="#f04848" stroke-width="0.15">This work</text>
<text x="157" y="218.4" font-size="7.4" text-anchor="middle" fill="#2ea6d2" font-weight="normal" textLength="29.7" lengthAdjust="spacingAndGlyphs"  stroke="#2ea6d2" stroke-width="0.15">QRNN3D</text>
<text x="157" y="228.4" font-size="7.4" text-anchor="middle" fill="#2b2b2b" font-weight="normal" textLength="15.9" lengthAdjust="spacingAndGlyphs"  stroke="#2b2b2b" stroke-width="0.15">LLRT</text>
<text x="157" y="239" font-size="7.4" text-anchor="middle" fill="#2b2b2b" font-weight="normal" textLength="19.9" lengthAdjust="spacingAndGlyphs"  stroke="#2b2b2b" stroke-width="0.15">BM4D</text>
<text x="152.5" y="248.7" font-size="7.4" text-anchor="middle" fill="#2ea6d2" font-weight="normal" textLength="34.7" lengthAdjust="spacingAndGlyphs"  stroke="#2ea6d2" stroke-width="0.15">HSI-DeNet</text>
<text x="107.6" y="253.1" font-size="7.4" text-anchor="middle" fill="#2b2b2b" font-weight="normal" textLength="19.4" lengthAdjust="spacingAndGlyphs"  stroke="#2b2b2b" stroke-width="0.15">LRMR</text>
<text x="141.9" y="264.3" font-size="7.4" text-anchor="middle" fill="#2b2b2b" font-weight="normal" textLength="20.3" lengthAdjust="spacingAndGlyphs"  stroke="#2b2b2b" stroke-width="0.15">BM3D</text>
<text x="76" y="264.7" font-size="7.4" text-anchor="middle" fill="#2b2b2b" font-weight="normal" textLength="23.8" lengthAdjust="spacingAndGlyphs"  stroke="#2b2b2b" stroke-width="0.15">HSSNR</text>
<text x="118.8" y="274.2" font-size="7.4" text-anchor="middle" fill="#2ea6d2" font-weight="normal" textLength="27.9" lengthAdjust="spacingAndGlyphs"  stroke="#2ea6d2" stroke-width="0.15">HS-Prior</text>
<text x="53.5" y="296.3" font-size="7.4" text-anchor="middle" fill="#2b2b2b" font-weight="normal" textLength="17.9" lengthAdjust="spacingAndGlyphs"  stroke="#2b2b2b" stroke-width="0.15">Noisy</text>
<text x="53.6" y="305.4" font-size="7.4" text-anchor="middle" fill="#2b2b2b" font-weight="normal" textLength="26.1" lengthAdjust="spacingAndGlyphs"  stroke="#2b2b2b" stroke-width="0.15">(<tspan font-style="italic">σ</tspan> = 20)</text>
<text x="238" y="192.8" font-size="13" text-anchor="start" fill="#111" font-weight="bold" stroke="#111" stroke-width="0.45">d</text>
<path d="M267.8,194 L267.8,334.4 L435.1,334.4 L435.1,194 Z" fill="none" stroke="#7e7e7e" stroke-width="0.7"/>
<line x1="264.8" y1="199.3" x2="267.8" y2="199.3" stroke="#7e7e7e" stroke-width="0.7"/>
<text x="261.6" y="201.9" font-size="7.6" text-anchor="end" fill="#2b2b2b" font-weight="normal" textLength="8.6" lengthAdjust="spacingAndGlyphs"  stroke="#2b2b2b" stroke-width="0.15">45</text>
<line x1="264.8" y1="226.3" x2="267.8" y2="226.3" stroke="#7e7e7e" stroke-width="0.7"/>
<text x="261.6" y="228.9" font-size="7.6" text-anchor="end" fill="#2b2b2b" font-weight="normal" textLength="8.6" lengthAdjust="spacingAndGlyphs"  stroke="#2b2b2b" stroke-width="0.15">40</text>
<line x1="264.8" y1="253.3" x2="267.8" y2="253.3" stroke="#7e7e7e" stroke-width="0.7"/>
<text x="261.6" y="255.9" font-size="7.6" text-anchor="end" fill="#2b2b2b" font-weight="normal" textLength="8.6" lengthAdjust="spacingAndGlyphs"  stroke="#2b2b2b" stroke-width="0.15">35</text>
<line x1="264.8" y1="280.3" x2="267.8" y2="280.3" stroke="#7e7e7e" stroke-width="0.7"/>
<text x="261.6" y="282.90000000000003" font-size="7.6" text-anchor="end" fill="#2b2b2b" font-weight="normal" textLength="8.6" lengthAdjust="spacingAndGlyphs"  stroke="#2b2b2b" stroke-width="0.15">30</text>
<line x1="264.8" y1="307.3" x2="267.8" y2="307.3" stroke="#7e7e7e" stroke-width="0.7"/>
<text x="261.6" y="309.90000000000003" font-size="7.6" text-anchor="end" fill="#2b2b2b" font-weight="normal" textLength="8.6" lengthAdjust="spacingAndGlyphs"  stroke="#2b2b2b" stroke-width="0.15">25</text>
<line x1="264.8" y1="334.3" x2="267.8" y2="334.3" stroke="#7e7e7e" stroke-width="0.7"/>
<text x="261.6" y="336.90000000000003" font-size="7.6" text-anchor="end" fill="#2b2b2b" font-weight="normal" textLength="8.6" lengthAdjust="spacingAndGlyphs"  stroke="#2b2b2b" stroke-width="0.15">20</text>
<rect x="270.50" y="213.34" width="5.4" height="121.06" fill="#f26b6b" stroke="#5a4a4a" stroke-width="0.35"/>
<rect x="275.90" y="217.12" width="5.4" height="117.28" fill="#fdca62" stroke="#5a4a4a" stroke-width="0.35"/>
<rect x="281.30" y="241.42" width="5.4" height="92.98" fill="#1fd39e" stroke="#5a4a4a" stroke-width="0.35"/>
<rect x="286.70" y="287.86" width="5.4" height="46.54" fill="#1e7aa8" stroke="#5a4a4a" stroke-width="0.35"/>
<line x1="281.3" y1="334.4" x2="281.3" y2="337.4" stroke="#7e7e7e" stroke-width="0.7"/>
<text x="281.3" y="346.9" font-size="7.6" text-anchor="middle" fill="#2b2b2b" font-weight="normal" textLength="4.3" lengthAdjust="spacingAndGlyphs"  stroke="#2b2b2b" stroke-width="0.15">5</text>
<rect x="298.36" y="225.22" width="5.4" height="109.18" fill="#f26b6b" stroke="#5a4a4a" stroke-width="0.35"/>
<rect x="303.76" y="224.68" width="5.4" height="109.72" fill="#fdca62" stroke="#5a4a4a" stroke-width="0.35"/>
<rect x="309.16" y="240.34" width="5.4" height="94.06" fill="#1fd39e" stroke="#5a4a4a" stroke-width="0.35"/>
<rect x="314.56" y="288.94" width="5.4" height="45.46" fill="#1e7aa8" stroke="#5a4a4a" stroke-width="0.35"/>
<line x1="309.2" y1="334.4" x2="309.2" y2="337.4" stroke="#7e7e7e" stroke-width="0.7"/>
<text x="309.16" y="346.9" font-size="7.6" text-anchor="middle" fill="#2b2b2b" font-weight="normal" textLength="8.6" lengthAdjust="spacingAndGlyphs"  stroke="#2b2b2b" stroke-width="0.15">10</text>
<rect x="326.22" y="234.94" width="5.4" height="99.46" fill="#f26b6b" stroke="#5a4a4a" stroke-width="0.35"/>
<rect x="331.62" y="239.26" width="5.4" height="95.14" fill="#fdca62" stroke="#5a4a4a" stroke-width="0.35"/>
<rect x="337.02" y="240.88" width="5.4" height="93.52" fill="#1fd39e" stroke="#5a4a4a" stroke-width="0.35"/>
<rect x="342.42" y="289.48" width="5.4" height="44.92" fill="#1e7aa8" stroke="#5a4a4a" stroke-width="0.35"/>
<line x1="337.0" y1="334.4" x2="337.0" y2="337.4" stroke="#7e7e7e" stroke-width="0.7"/>
<text x="337.02" y="346.9" font-size="7.6" text-anchor="middle" fill="#2b2b2b" font-weight="normal" textLength="8.6" lengthAdjust="spacingAndGlyphs"  stroke="#2b2b2b" stroke-width="0.15">15</text>
<rect x="354.08" y="243.04" width="5.4" height="91.36" fill="#f26b6b" stroke="#5a4a4a" stroke-width="0.35"/>
<rect x="359.48" y="252.76" width="5.4" height="81.64" fill="#fdca62" stroke="#5a4a4a" stroke-width="0.35"/>
<rect x="364.88" y="244.12" width="5.4" height="90.28" fill="#1fd39e" stroke="#5a4a4a" stroke-width="0.35"/>
<rect x="370.28" y="289.48" width="5.4" height="44.92" fill="#1e7aa8" stroke="#5a4a4a" stroke-width="0.35"/>
<line x1="364.9" y1="334.4" x2="364.9" y2="337.4" stroke="#7e7e7e" stroke-width="0.7"/>
<text x="364.88" y="346.9" font-size="7.6" text-anchor="middle" fill="#2b2b2b" font-weight="normal" textLength="8.6" lengthAdjust="spacingAndGlyphs"  stroke="#2b2b2b" stroke-width="0.15">20</text>
<rect x="381.94" y="260.86" width="5.4" height="73.54" fill="#f26b6b" stroke="#5a4a4a" stroke-width="0.35"/>
<rect x="387.34" y="286.78" width="5.4" height="47.62" fill="#fdca62" stroke="#5a4a4a" stroke-width="0.35"/>
<rect x="392.74" y="274.90" width="5.4" height="59.50" fill="#1fd39e" stroke="#5a4a4a" stroke-width="0.35"/>
<rect x="398.14" y="281.92" width="5.4" height="52.48" fill="#1e7aa8" stroke="#5a4a4a" stroke-width="0.35"/>
<line x1="392.7" y1="334.4" x2="392.7" y2="337.4" stroke="#7e7e7e" stroke-width="0.7"/>
<text x="392.74" y="346.9" font-size="7.6" text-anchor="middle" fill="#2b2b2b" font-weight="normal" textLength="8.6" lengthAdjust="spacingAndGlyphs"  stroke="#2b2b2b" stroke-width="0.15">35</text>
<rect x="409.80" y="267.34" width="5.4" height="67.06" fill="#f26b6b" stroke="#5a4a4a" stroke-width="0.35"/>
<rect x="415.20" y="312.16" width="5.4" height="22.24" fill="#fdca62" stroke="#5a4a4a" stroke-width="0.35"/>
<rect x="420.60" y="302.44" width="5.4" height="31.96" fill="#1fd39e" stroke="#5a4a4a" stroke-width="0.35"/>
<rect x="426.00" y="269.50" width="5.4" height="64.90" fill="#1e7aa8" stroke="#5a4a4a" stroke-width="0.35"/>
<line x1="420.6" y1="334.4" x2="420.6" y2="337.4" stroke="#7e7e7e" stroke-width="0.7"/>
<text x="420.6" y="346.9" font-size="7.6" text-anchor="middle" fill="#2b2b2b" font-weight="normal" textLength="8.6" lengthAdjust="spacingAndGlyphs"  stroke="#2b2b2b" stroke-width="0.15">50</text>
<text x="351.3" y="361.2" font-size="9" text-anchor="middle" fill="#2b2b2b" font-weight="normal" textLength="61.8" lengthAdjust="spacingAndGlyphs" >Noise levels (σ)</text>
<text x="0" y="0" font-size="9" text-anchor="middle" fill="#2b2b2b" font-weight="normal" textLength="69.4" lengthAdjust="spacingAndGlyphs" transform="translate(244.4,263.6) rotate(-90)">Accuracy (PSNR)</text>
<rect x="333.2" y="199.10" width="5.9" height="4.9" fill="#f26b6b" stroke="#5a4a4a" stroke-width="0.35"/>
<text x="343.7" y="204.2" font-size="7.6" text-anchor="start" fill="#2b2b2b" font-weight="normal" textLength="84.4" lengthAdjust="spacingAndGlyphs"  stroke="#2b2b2b" stroke-width="0.15">Proposed (<tspan font-style="italic">σ</tspan> = 10, 20, 50)</text>
<rect x="333.2" y="208.43" width="5.9" height="4.9" fill="#fdca62" stroke="#5a4a4a" stroke-width="0.35"/>
<text x="343.7" y="213.53" font-size="7.6" text-anchor="start" fill="#2b2b2b" font-weight="normal" textLength="47.2" lengthAdjust="spacingAndGlyphs"  stroke="#2b2b2b" stroke-width="0.15">Model (<tspan font-style="italic">σ</tspan> = 10)</text>
<rect x="333.2" y="217.76" width="5.9" height="4.9" fill="#1fd39e" stroke="#5a4a4a" stroke-width="0.35"/>
<text x="343.7" y="222.85999999999999" font-size="7.6" text-anchor="start" fill="#2b2b2b" font-weight="normal" textLength="48.5" lengthAdjust="spacingAndGlyphs"  stroke="#2b2b2b" stroke-width="0.15">Model (<tspan font-style="italic">σ</tspan> = 20)</text>
<rect x="333.2" y="227.09" width="5.9" height="4.9" fill="#1e7aa8" stroke="#5a4a4a" stroke-width="0.35"/>
<text x="343.7" y="232.19" font-size="7.6" text-anchor="start" fill="#2b2b2b" font-weight="normal" textLength="48.5" lengthAdjust="spacingAndGlyphs"  stroke="#2b2b2b" stroke-width="0.15">Model (<tspan font-style="italic">σ</tspan> = 50)</text>
<text x="469" y="193.2" font-size="13" text-anchor="start" fill="#111" font-weight="bold" stroke="#111" stroke-width="0.45">e</text>
<path d="M500,194.3 L500,334.4 L672.3,334.4 L672.3,194.3 Z" fill="none" stroke="#7e7e7e" stroke-width="0.75"/>
<line x1="497.3" y1="194.3" x2="500" y2="194.3" stroke="#7e7e7e" stroke-width="0.7"/>
<text x="494" y="196.9" font-size="7.6" text-anchor="end" fill="#2b2b2b" font-weight="normal" textLength="8.6" lengthAdjust="spacingAndGlyphs"  stroke="#2b2b2b" stroke-width="0.15">20</text>
<line x1="497.3" y1="241.1" x2="500" y2="241.1" stroke="#7e7e7e" stroke-width="0.7"/>
<text x="494" y="243.7" font-size="7.6" text-anchor="end" fill="#2b2b2b" font-weight="normal" textLength="8.6" lengthAdjust="spacingAndGlyphs"  stroke="#2b2b2b" stroke-width="0.15">15</text>
<line x1="497.3" y1="287.9" x2="500" y2="287.9" stroke="#7e7e7e" stroke-width="0.7"/>
<text x="494" y="290.5" font-size="7.6" text-anchor="end" fill="#2b2b2b" font-weight="normal" textLength="8.6" lengthAdjust="spacingAndGlyphs"  stroke="#2b2b2b" stroke-width="0.15">10</text>
<line x1="497.3" y1="334.7" x2="500" y2="334.7" stroke="#7e7e7e" stroke-width="0.7"/>
<text x="494" y="337.3" font-size="7.6" text-anchor="end" fill="#2b2b2b" font-weight="normal" textLength="4.3" lengthAdjust="spacingAndGlyphs"  stroke="#2b2b2b" stroke-width="0.15">5</text>
<line x1="514.6" y1="334.4" x2="514.6" y2="337.4" stroke="#7e7e7e" stroke-width="0.7"/>
<text x="514.6" y="346.9" font-size="7.6" text-anchor="middle" fill="#2b2b2b" font-weight="normal" textLength="4.3" lengthAdjust="spacingAndGlyphs"  stroke="#2b2b2b" stroke-width="0.15">3</text>
<line x1="539.2" y1="334.4" x2="539.2" y2="337.4" stroke="#7e7e7e" stroke-width="0.7"/>
<text x="539.2" y="346.9" font-size="7.6" text-anchor="middle" fill="#2b2b2b" font-weight="normal" textLength="4.3" lengthAdjust="spacingAndGlyphs"  stroke="#2b2b2b" stroke-width="0.15">8</text>
<line x1="578.6" y1="334.4" x2="578.6" y2="337.4" stroke="#7e7e7e" stroke-width="0.7"/>
<text x="578.5600000000001" y="346.9" font-size="7.6" text-anchor="middle" fill="#2b2b2b" font-weight="normal" textLength="8.6" lengthAdjust="spacingAndGlyphs"  stroke="#2b2b2b" stroke-width="0.15">16</text>
<line x1="617.9" y1="334.4" x2="617.9" y2="337.4" stroke="#7e7e7e" stroke-width="0.7"/>
<text x="617.9200000000001" y="346.9" font-size="7.6" text-anchor="middle" fill="#2b2b2b" font-weight="normal" textLength="8.6" lengthAdjust="spacingAndGlyphs"  stroke="#2b2b2b" stroke-width="0.15">24</text>
<line x1="657.3" y1="334.4" x2="657.3" y2="337.4" stroke="#7e7e7e" stroke-width="0.7"/>
<text x="657.28" y="346.9" font-size="7.6" text-anchor="middle" fill="#2b2b2b" font-weight="normal" textLength="8.6" lengthAdjust="spacingAndGlyphs"  stroke="#2b2b2b" stroke-width="0.15">32</text>
<text x="585.9" y="361.2" font-size="9" text-anchor="middle" fill="#2b2b2b" font-weight="normal" textLength="101.8" lengthAdjust="spacingAndGlyphs" >Number of input channels</text>
<text x="0" y="0" font-size="9" text-anchor="middle" fill="#2b2b2b" font-weight="normal" textLength="95.9" lengthAdjust="spacingAndGlyphs" transform="translate(476.4,269) rotate(-90)">Signal enhancement (dB)</text>
<polyline points="514.60,234.92 539.20,219.10 578.56,213.96 617.92,211.15 657.28,211.43" fill="none" stroke="#f27878" stroke-width="0.9"/>
<rect x="512.90" y="233.22" width="3.40" height="3.40" fill="#f27878"/>
<rect x="537.50" y="217.40" width="3.40" height="3.40" fill="#f27878"/>
<rect x="576.86" y="212.26" width="3.40" height="3.40" fill="#f27878"/>
<rect x="616.22" y="209.45" width="3.40" height="3.40" fill="#f27878"/>
<rect x="655.58" y="209.73" width="3.40" height="3.40" fill="#f27878"/>
<polyline points="514.60,245.78 539.20,228.93 578.56,237.36 617.92,239.23 657.28,242.97" fill="none" stroke="#fdc966" stroke-width="0.9"/>
<circle cx="514.60" cy="245.78" r="1.90" fill="#fdc966"/>
<circle cx="539.20" cy="228.93" r="1.90" fill="#fdc966"/>
<circle cx="578.56" cy="237.36" r="1.90" fill="#fdc966"/>
<circle cx="617.92" cy="239.23" r="1.90" fill="#fdc966"/>
<circle cx="657.28" cy="242.97" r="1.90" fill="#fdc966"/>
<polyline points="514.60,257.01 539.20,245.78 578.56,244.84 617.92,242.04 657.28,239.70" fill="none" stroke="#22d4a0" stroke-width="0.9"/>
<path d="M514.60,254.71 L516.90,257.01 L514.60,259.31 L512.30,257.01 Z" fill="#22d4a0"/>
<path d="M539.20,243.48 L541.50,245.78 L539.20,248.08 L536.90,245.78 Z" fill="#22d4a0"/>
<path d="M578.56,242.54 L580.86,244.84 L578.56,247.14 L576.26,244.84 Z" fill="#22d4a0"/>
<path d="M617.92,239.74 L620.22,242.04 L617.92,244.34 L615.62,242.04 Z" fill="#22d4a0"/>
<path d="M657.28,237.40 L659.58,239.70 L657.28,242.00 L654.98,239.70 Z" fill="#22d4a0"/>
<polyline points="514.60,250.46 539.20,257.95 578.56,249.52 617.92,264.50 657.28,271.99" fill="none" stroke="#2485b4" stroke-width="0.9"/>
<path d="M514.60,248.16 L516.78,252.07 L512.42,252.07 Z" fill="#2485b4"/>
<path d="M539.20,255.65 L541.38,259.56 L537.02,259.56 Z" fill="#2485b4"/>
<path d="M578.56,247.22 L580.75,251.13 L576.38,251.13 Z" fill="#2485b4"/>
<path d="M617.92,262.20 L620.11,266.11 L615.74,266.11 Z" fill="#2485b4"/>
<path d="M657.28,269.69 L659.46,273.60 L655.10,273.60 Z" fill="#2485b4"/>
<line x1="609.1" y1="285.40" x2="626.5" y2="285.40" stroke="#f27878" stroke-width="0.9"/>
<rect x="616.10" y="283.70" width="3.40" height="3.40" fill="#f27878"/>
<text x="631.2" y="288.09999999999997" font-size="7.6" text-anchor="start" fill="#2b2b2b" font-weight="normal" textLength="31.2" lengthAdjust="spacingAndGlyphs"  stroke="#2b2b2b" stroke-width="0.15">Proposed</text>
<line x1="609.1" y1="297.63" x2="626.5" y2="297.63" stroke="#fdc966" stroke-width="0.9"/>
<circle cx="617.80" cy="297.63" r="1.90" fill="#fdc966"/>
<text x="631.2" y="300.33" font-size="7.6" text-anchor="start" fill="#2b2b2b" font-weight="normal" textLength="20.5" lengthAdjust="spacingAndGlyphs"  stroke="#2b2b2b" stroke-width="0.15">BM4D</text>
<line x1="609.1" y1="309.86" x2="626.5" y2="309.86" stroke="#22d4a0" stroke-width="0.9"/>
<path d="M617.80,307.56 L620.10,309.86 L617.80,312.16 L615.50,309.86 Z" fill="#22d4a0"/>
<text x="631.2" y="312.55999999999995" font-size="7.6" text-anchor="start" fill="#2b2b2b" font-weight="normal" textLength="17.5" lengthAdjust="spacingAndGlyphs"  stroke="#2b2b2b" stroke-width="0.15">LLRT</text>
<line x1="609.1" y1="322.09" x2="626.5" y2="322.09" stroke="#2485b4" stroke-width="0.9"/>
<path d="M617.80,319.79 L619.98,323.70 L615.62,323.70 Z" fill="#2485b4"/>
<text x="631.2" y="324.78999999999996" font-size="7.6" text-anchor="start" fill="#2b2b2b" font-weight="normal" textLength="30" lengthAdjust="spacingAndGlyphs"  stroke="#2b2b2b" stroke-width="0.15">QRNN3D</text>
</svg>
</body></html>
